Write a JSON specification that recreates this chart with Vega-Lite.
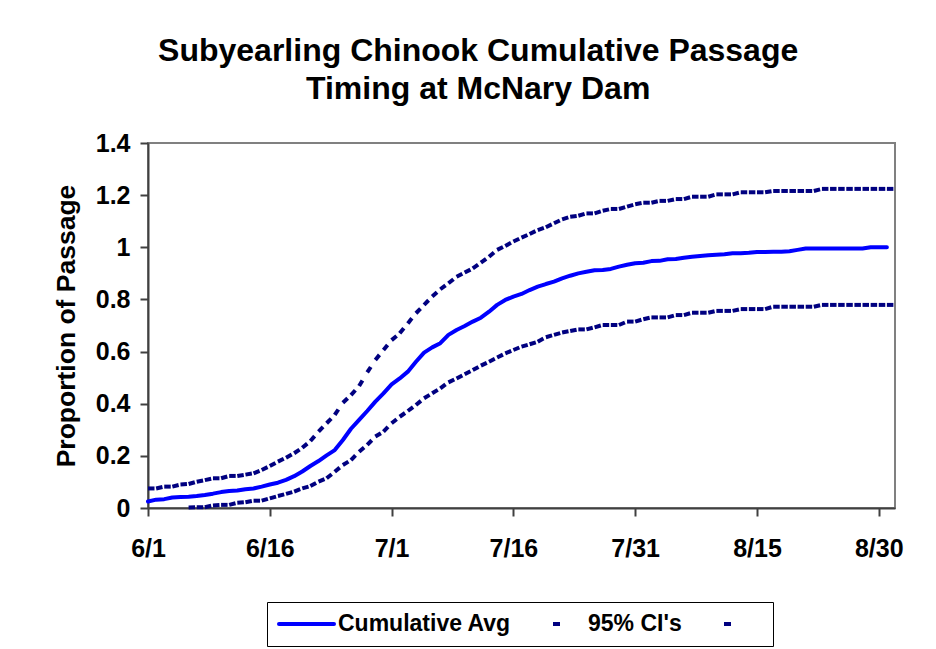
{
  "$schema": "https://vega.github.io/schema/vega-lite/v6.json",
  "width": 747,
  "height": 365,
  "autosize": {"type": "none"},
  "padding": {"left": 148, "top": 143, "right": 41, "bottom": 141},
  "background": "white",
  "title": {
    "text": ["Subyearling Chinook Cumulative Passage", "Timing at McNary Dam"],
    "font": "Liberation Sans",
    "fontSize": 32,
    "fontWeight": "bold",
    "color": "black",
    "lineHeight": 38,
    "anchor": "middle",
    "frame": "bounds",
    "offset": 25
  },
  "data": {
    "format": {"parse": {"date": "utc:'%Y-%m-%d'"}},
    "values": [
      {"date": "2005-06-01", "avg": 0.025, "upper": 0.075},
      {"date": "2005-06-02", "avg": 0.032, "upper": 0.075},
      {"date": "2005-06-03", "avg": 0.034, "upper": 0.082},
      {"date": "2005-06-04", "avg": 0.040, "upper": 0.082},
      {"date": "2005-06-05", "avg": 0.042, "upper": 0.090},
      {"date": "2005-06-06", "avg": 0.043, "upper": 0.092, "lower": 0.002},
      {"date": "2005-06-07", "avg": 0.046, "upper": 0.101, "lower": 0.003},
      {"date": "2005-06-08", "avg": 0.050, "upper": 0.107, "lower": 0.003},
      {"date": "2005-06-09", "avg": 0.055, "upper": 0.114, "lower": 0.010},
      {"date": "2005-06-10", "avg": 0.061, "upper": 0.114, "lower": 0.012},
      {"date": "2005-06-11", "avg": 0.065, "upper": 0.123, "lower": 0.012},
      {"date": "2005-06-12", "avg": 0.067, "upper": 0.123, "lower": 0.020},
      {"date": "2005-06-13", "avg": 0.072, "upper": 0.128, "lower": 0.022},
      {"date": "2005-06-14", "avg": 0.075, "upper": 0.133, "lower": 0.028},
      {"date": "2005-06-15", "avg": 0.082, "upper": 0.146, "lower": 0.028},
      {"date": "2005-06-16", "avg": 0.090, "upper": 0.161, "lower": 0.037},
      {"date": "2005-06-17", "avg": 0.097, "upper": 0.178, "lower": 0.046},
      {"date": "2005-06-18", "avg": 0.108, "upper": 0.193, "lower": 0.054},
      {"date": "2005-06-19", "avg": 0.122, "upper": 0.210, "lower": 0.063},
      {"date": "2005-06-20", "avg": 0.140, "upper": 0.231, "lower": 0.075},
      {"date": "2005-06-21", "avg": 0.161, "upper": 0.257, "lower": 0.084},
      {"date": "2005-06-22", "avg": 0.180, "upper": 0.293, "lower": 0.101},
      {"date": "2005-06-23", "avg": 0.202, "upper": 0.325, "lower": 0.114},
      {"date": "2005-06-24", "avg": 0.222, "upper": 0.357, "lower": 0.139},
      {"date": "2005-06-25", "avg": 0.261, "upper": 0.404, "lower": 0.165},
      {"date": "2005-06-26", "avg": 0.304, "upper": 0.433, "lower": 0.184},
      {"date": "2005-06-27", "avg": 0.338, "upper": 0.468, "lower": 0.216},
      {"date": "2005-06-28", "avg": 0.372, "upper": 0.520, "lower": 0.242},
      {"date": "2005-06-29", "avg": 0.408, "upper": 0.568, "lower": 0.274},
      {"date": "2005-06-30", "avg": 0.440, "upper": 0.606, "lower": 0.293},
      {"date": "2005-07-01", "avg": 0.474, "upper": 0.644, "lower": 0.325},
      {"date": "2005-07-02", "avg": 0.497, "upper": 0.670, "lower": 0.350},
      {"date": "2005-07-03", "avg": 0.523, "upper": 0.708, "lower": 0.372},
      {"date": "2005-07-04", "avg": 0.561, "upper": 0.747, "lower": 0.395},
      {"date": "2005-07-05", "avg": 0.596, "upper": 0.779, "lower": 0.421},
      {"date": "2005-07-06", "avg": 0.616, "upper": 0.811, "lower": 0.440},
      {"date": "2005-07-07", "avg": 0.632, "upper": 0.839, "lower": 0.459},
      {"date": "2005-07-08", "avg": 0.664, "upper": 0.862, "lower": 0.482},
      {"date": "2005-07-09", "avg": 0.683, "upper": 0.887, "lower": 0.497},
      {"date": "2005-07-10", "avg": 0.698, "upper": 0.903, "lower": 0.513},
      {"date": "2005-07-11", "avg": 0.715, "upper": 0.919, "lower": 0.529},
      {"date": "2005-07-12", "avg": 0.730, "upper": 0.941, "lower": 0.546},
      {"date": "2005-07-13", "avg": 0.753, "upper": 0.964, "lower": 0.561},
      {"date": "2005-07-14", "avg": 0.779, "upper": 0.990, "lower": 0.577},
      {"date": "2005-07-15", "avg": 0.798, "upper": 1.005, "lower": 0.593},
      {"date": "2005-07-16", "avg": 0.811, "upper": 1.022, "lower": 0.606},
      {"date": "2005-07-17", "avg": 0.821, "upper": 1.037, "lower": 0.619},
      {"date": "2005-07-18", "avg": 0.836, "upper": 1.051, "lower": 0.628},
      {"date": "2005-07-19", "avg": 0.849, "upper": 1.066, "lower": 0.638},
      {"date": "2005-07-20", "avg": 0.859, "upper": 1.077, "lower": 0.655},
      {"date": "2005-07-21", "avg": 0.868, "upper": 1.092, "lower": 0.664},
      {"date": "2005-07-22", "avg": 0.881, "upper": 1.107, "lower": 0.673},
      {"date": "2005-07-23", "avg": 0.891, "upper": 1.117, "lower": 0.679},
      {"date": "2005-07-24", "avg": 0.900, "upper": 1.121, "lower": 0.685},
      {"date": "2005-07-25", "avg": 0.906, "upper": 1.130, "lower": 0.685},
      {"date": "2005-07-26", "avg": 0.912, "upper": 1.130, "lower": 0.693},
      {"date": "2005-07-27", "avg": 0.913, "upper": 1.140, "lower": 0.702},
      {"date": "2005-07-28", "avg": 0.917, "upper": 1.147, "lower": 0.702},
      {"date": "2005-07-29", "avg": 0.926, "upper": 1.147, "lower": 0.702},
      {"date": "2005-07-30", "avg": 0.933, "upper": 1.156, "lower": 0.715},
      {"date": "2005-07-31", "avg": 0.939, "upper": 1.165, "lower": 0.715},
      {"date": "2005-08-01", "avg": 0.941, "upper": 1.171, "lower": 0.724},
      {"date": "2005-08-02", "avg": 0.947, "upper": 1.171, "lower": 0.731},
      {"date": "2005-08-03", "avg": 0.948, "upper": 1.178, "lower": 0.731},
      {"date": "2005-08-04", "avg": 0.954, "upper": 1.178, "lower": 0.731},
      {"date": "2005-08-05", "avg": 0.955, "upper": 1.185, "lower": 0.740},
      {"date": "2005-08-06", "avg": 0.960, "upper": 1.185, "lower": 0.740},
      {"date": "2005-08-07", "avg": 0.964, "upper": 1.194, "lower": 0.749},
      {"date": "2005-08-08", "avg": 0.967, "upper": 1.194, "lower": 0.749},
      {"date": "2005-08-09", "avg": 0.969, "upper": 1.194, "lower": 0.749},
      {"date": "2005-08-10", "avg": 0.971, "upper": 1.203, "lower": 0.756},
      {"date": "2005-08-11", "avg": 0.973, "upper": 1.203, "lower": 0.756},
      {"date": "2005-08-12", "avg": 0.977, "upper": 1.203, "lower": 0.756},
      {"date": "2005-08-13", "avg": 0.977, "upper": 1.211, "lower": 0.763},
      {"date": "2005-08-14", "avg": 0.979, "upper": 1.211, "lower": 0.763},
      {"date": "2005-08-15", "avg": 0.982, "upper": 1.211, "lower": 0.763},
      {"date": "2005-08-16", "avg": 0.982, "upper": 1.211, "lower": 0.763},
      {"date": "2005-08-17", "avg": 0.983, "upper": 1.216, "lower": 0.772},
      {"date": "2005-08-18", "avg": 0.983, "upper": 1.216, "lower": 0.772},
      {"date": "2005-08-19", "avg": 0.985, "upper": 1.216, "lower": 0.772},
      {"date": "2005-08-20", "avg": 0.990, "upper": 1.216, "lower": 0.772},
      {"date": "2005-08-21", "avg": 0.995, "upper": 1.216, "lower": 0.772},
      {"date": "2005-08-22", "avg": 0.995, "upper": 1.216, "lower": 0.772},
      {"date": "2005-08-23", "avg": 0.995, "upper": 1.224, "lower": 0.779},
      {"date": "2005-08-24", "avg": 0.995, "upper": 1.224, "lower": 0.779},
      {"date": "2005-08-25", "avg": 0.995, "upper": 1.224, "lower": 0.779},
      {"date": "2005-08-26", "avg": 0.995, "upper": 1.224, "lower": 0.779},
      {"date": "2005-08-27", "avg": 0.995, "upper": 1.224, "lower": 0.779},
      {"date": "2005-08-28", "avg": 0.995, "upper": 1.224, "lower": 0.779},
      {"date": "2005-08-29", "avg": 1.000, "upper": 1.224, "lower": 0.779},
      {"date": "2005-08-30", "avg": 1.000, "upper": 1.224, "lower": 0.779},
      {"date": "2005-08-31", "avg": 1.000, "upper": 1.224, "lower": 0.779},
      {"date": "2005-09-01", "upper": 1.224, "lower": 0.779}
    ]
  },
  "transform": [
    {"fold": ["avg", "upper", "lower"], "as": ["series", "value"]},
    {"filter": "isValid(datum.value)"}
  ],
  "encoding": {
    "x": {
      "field": "date",
      "type": "temporal",
      "scale": {
        "type": "utc",
        "domain": [
          {"year": 2005, "month": 6, "date": 1, "utc": true},
          {"year": 2005, "month": 9, "date": 1, "utc": true}
        ]
      },
      "axis": {
        "title": null,
        "labelExpr": "utcFormat(datum.value, '%-m/%-d')",
        "labelPadding": 20,
        "labelFlush": false,
        "values": [
          {"year": 2005, "month": 6, "date": 1, "utc": true},
          {"year": 2005, "month": 6, "date": 16, "utc": true},
          {"year": 2005, "month": 7, "date": 1, "utc": true},
          {"year": 2005, "month": 7, "date": 16, "utc": true},
          {"year": 2005, "month": 7, "date": 31, "utc": true},
          {"year": 2005, "month": 8, "date": 15, "utc": true},
          {"year": 2005, "month": 8, "date": 30, "utc": true}
        ]
      }
    },
    "y": {
      "field": "value",
      "type": "quantitative",
      "scale": {"domain": [0, 1.4], "nice": false, "zero": true},
      "axis": {
        "title": "Proportion of Passage",
        "values": [0, 0.2, 0.4, 0.6, 0.8, 1, 1.2, 1.4],
        "format": "~g",
        "labelPadding": 10,
        "titlePadding": 15
      }
    },
    "color": {
      "field": "series",
      "type": "nominal",
      "scale": {"domain": ["avg", "upper", "lower"], "range": ["#0000FF", "#000080", "#000080"]},
      "legend": {
        "orient": "none",
        "legendX": 119,
        "legendY": 459,
        "direction": "horizontal",
        "columns": 3,
        "title": null,
        "symbolType": "M-1,0H4.5",
        "symbolSize": 400,
        "symbolStrokeWidth": 4,
        "symbolFillColor": "transparent",
        "labelFont": "Liberation Sans",
        "labelFontSize": 23,
        "labelFontWeight": "bold",
        "labelColor": "black",
        "labelLimit": 400,
        "labelOffset": 37,
        "columnPadding": 10,
        "padding": 10,
        "strokeColor": "black",
        "fillColor": "white",
        "labelExpr": "datum.value === 'avg' ? 'Cumulative Avg' : datum.value === 'upper' ? \"95% CI's\" : ''",
        "encode": {
          "symbols": {
            "update": {
              "strokeDash": {"signal": "datum.value === 'avg' ? [100, 0] : [0, 24, 7, 100]"},
              "strokeCap": {"signal": "datum.value === 'avg' ? 'round' : 'butt'"}
            }
          }
        }
      }
    }
  },
  "layer": [
    {
      "transform": [{"filter": "datum.series === 'avg'"}],
      "mark": {"type": "line", "strokeWidth": 4, "strokeJoin": "round", "strokeCap": "round"}
    },
    {
      "transform": [
        {"filter": "datum.series !== 'avg'"},
        {
          "window": [
            {"op": "lead", "field": "value", "as": "nextValue"},
            {"op": "lead", "field": "date", "as": "nextDate"}
          ],
          "groupby": ["series"],
          "sort": [{"field": "date", "order": "ascending"}]
        },
        {"filter": "isValid(datum.nextValue)"}
      ],
      "mark": {"type": "rule", "strokeWidth": 4, "strokeDash": [6.5, 100], "strokeCap": "butt"},
      "encoding": {
        "x2": {"field": "nextDate"},
        "y2": {"field": "nextValue"}
      }
    }
  ],
  "config": {
    "view": {"stroke": "#808080", "strokeWidth": 2},
    "axis": {
      "grid": false,
      "labelFont": "Liberation Sans",
      "labelFontSize": 25,
      "labelFontWeight": "bold",
      "labelColor": "black",
      "titleFont": "Liberation Sans",
      "titleFontSize": 26.5,
      "titleFontWeight": "bold",
      "titleColor": "black",
      "domainColor": "#404040",
      "domainWidth": 2,
      "tickColor": "#404040",
      "tickWidth": 2,
      "tickSize": 8
    }
  }
}
